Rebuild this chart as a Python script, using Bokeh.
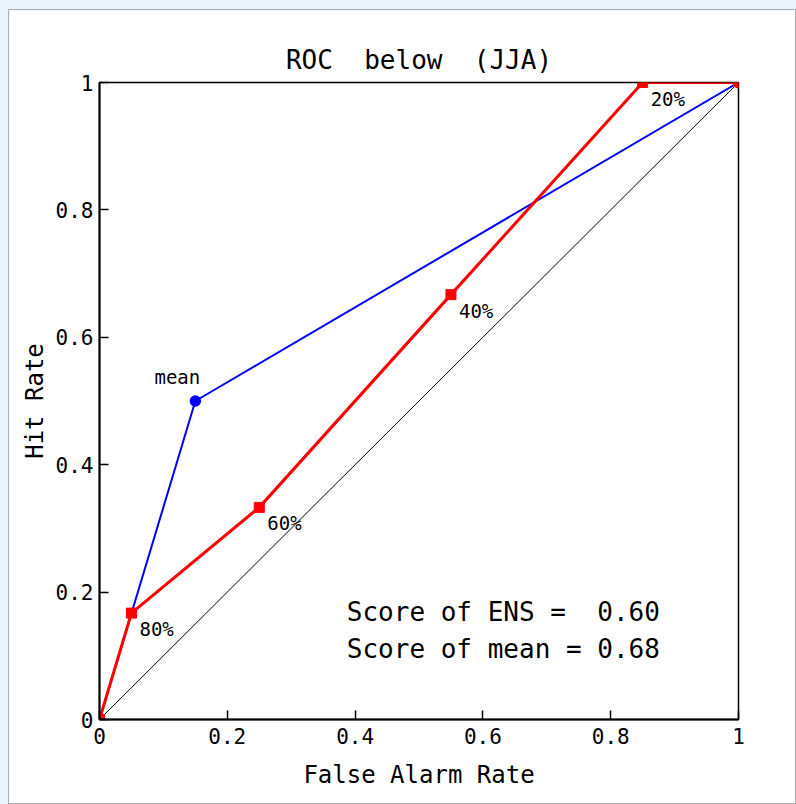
from bokeh.plotting import figure
from bokeh.models import Range1d, FixedTicker, CustomJSTickFormatter, ColumnDataSource
from bokeh.embed import file_html
from bokeh.resources import INLINE
from bokeh.core.properties import value

# ---- data ----
ens_far = [0.0, 0.05, 0.25, 0.55, 0.85, 1.0]
ens_hr = [0.0, 0.167, 0.333, 0.667, 1.0, 1.0]
ens_labels = ["", "80%", "60%", "40%", "20%", ""]
mean_far = [0.0, 0.15, 1.0]
mean_hr = [0.0, 0.5, 1.0]
mean_label_far = [0.15]
mean_label_hr = [0.5]
mean_label = ["mean"]
diag_x = [0.0, 1.0]
diag_y = [0.0, 1.0]
ticks = [0.0, 0.2, 0.4, 0.6, 0.8, 1.0]
score_lines = ["Score of ENS = \u00a00.60", "Score of mean = 0.68"]
title_text = "ROC \u00a0below \u00a0(JJA)"

FONT = "DejaVu Sans Mono"

p = figure(width=788, height=795, output_backend="svg", toolbar_location=None,
           x_range=Range1d(0, 1), y_range=Range1d(0, 1),
           min_border_left=90, min_border_right=59, min_border_top=72, min_border_bottom=86,
           title=title_text)
p.styles = {"border": "1px solid #b0b0b0", "box-sizing": "border-box"}
p.background_fill_color = "white"
p.border_fill_color = "white"
p.outline_line_color = "black"
p.outline_line_width = 1.5
p.grid.visible = False

p.title.align = "center"
p.title.text_font = FONT
p.title.text_font_style = "normal"
p.title.text_font_size = "26px"
p.title.text_color = "black"
p.title.standoff = 16

fmt = CustomJSTickFormatter(code="""
if (Math.abs(tick) < 1e-9) return "0";
if (Math.abs(tick - 1) < 1e-9) return "1";
return tick.toFixed(1);
""")

for ax in (p.xaxis[0], p.yaxis[0]):
    ax.ticker = FixedTicker(ticks=ticks)
    ax.formatter = fmt
    ax.major_tick_in = 9
    ax.major_tick_out = 0
    ax.minor_tick_in = 0
    ax.minor_tick_out = 0
    ax.axis_line_width = 2
    ax.axis_line_color = "black"
    ax.major_tick_line_width = 1.5
    ax.major_tick_line_color = "black"
    ax.major_label_text_font = FONT
    ax.major_label_text_font_size = "21px"
    ax.major_label_text_color = "black"
    ax.axis_label_text_font = FONT
    ax.axis_label_text_font_style = "normal"
    ax.axis_label_text_font_size = "24px"
    ax.axis_label_text_color = "black"

p.xaxis.axis_label = "False Alarm Rate"
p.yaxis.axis_label = "Hit Rate"
p.xaxis.major_label_standoff = 8
p.yaxis.major_label_standoff = 6
p.xaxis.axis_label_standoff = 14
p.yaxis.axis_label_standoff = 4

# diagonal
p.line(diag_x, diag_y, line_color="black", line_width=1)

# mean curve (blue)
p.line(mean_far, mean_hr, line_color="blue", line_width=2)
p.scatter(mean_label_far, mean_label_hr, marker="circle", size=10,
          line_color="blue", fill_color="blue", line_width=1.5)

# ENS curve (red)
p.line(ens_far, ens_hr, line_color="red", line_width=3)
p.scatter(ens_far[:-1], ens_hr[:-1], marker="square", size=10,
          line_color="red", fill_color="red")
p.scatter(ens_far[-1:], ens_hr[-1:], marker="circle", size=11,
          line_color="red", fill_color="red")

src = ColumnDataSource(dict(x=ens_far, y=ens_hr, t=ens_labels))
p.text(x="x", y="y", text="t", source=src, x_offset=8, y_offset=16,
       text_font=value(FONT), text_font_size="19px", text_color="black",
       text_align="left", text_baseline="middle")

p.text(x=mean_label_far, y=mean_label_hr, text=mean_label, x_offset=-18, y_offset=-24,
       text_font=value(FONT), text_font_size="19px", text_color="black",
       text_align="center", text_baseline="middle")

p.text(x=[0.387, 0.387], y=[0.168, 0.110], text=score_lines,
       text_font=value(FONT), text_font_size="26px", text_color="black",
       text_align="left", text_baseline="middle")

html = file_html(p, INLINE)
i = html.find("</head>")
j = html.find("<body", i)
if j >= 0:
    html = (html[:j]
            + '<body style="background-color:#eaf4fc; margin:0; padding:9px 0 0 8px;"'
            + html[j + 5:])
open("out.html", "w").write(html)
